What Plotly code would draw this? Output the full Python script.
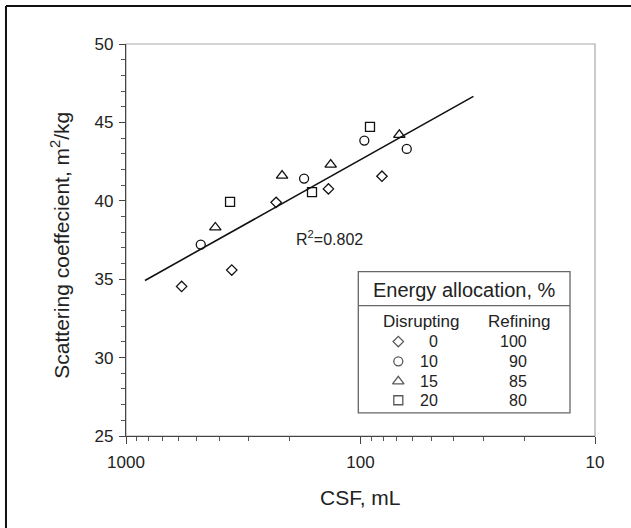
import plotly.graph_objects as go

# ---- data ----
csf_d0 = [579, 354, 229, 137, 81]
sc_d0 = [34.54, 35.58, 39.90, 40.76, 41.57]
csf_d10 = [480, 174, 96.3, 63.5]
sc_d10 = [37.21, 41.42, 43.84, 43.31]
csf_d15 = [416, 216, 134, 68.3]
sc_d15 = [38.30, 41.61, 42.31, 44.20]
csf_d20 = [360, 161, 91.1]
sc_d20 = [39.93, 40.55, 44.71]

fit_csf = [830, 33.0]
fit_sc = [34.92, 46.66]
r2_label = "R<sup>2</sup>=0.802"

legend_title = "Energy allocation, %"
disrupting = ["0", "10", "15", "20"]
refining = ["100", "90", "85", "80"]
x_tickvals = [1000, 100, 10]
x_ticktext = ["1000", "100", "10"]
x_minor = [900, 800, 700, 600, 500, 400, 300, 200, 90, 80, 70, 60, 50, 40, 30, 20]

FONT = "Liberation Sans, Arial, sans-serif"
TXT = "#222222"
symbols = ["diamond-open", "circle-open", "triangle-up-open", "square-open"]
sizes = [8, 9, 10, 9]

fig = go.Figure()
series = [(csf_d0, sc_d0), (csf_d10, sc_d10), (csf_d15, sc_d15), (csf_d20, sc_d20)]

fig.add_trace(go.Scatter(x=fit_csf, y=fit_sc, mode="lines",
                         line=dict(color="#111111", width=1.6),
                         showlegend=False, hoverinfo="skip"))
for (xs, ys), sym, sz in zip(series, symbols, sizes):
    fig.add_trace(go.Scatter(x=xs, y=ys, mode="markers",
                             marker=dict(symbol=sym, size=sz, color="#111111",
                                         line=dict(color="#111111", width=1.3)),
                             showlegend=False))

# legend key box (paper coordinates of plot area)
LX0, LX1, LY0, LY1, LSEP = 0.4953, 0.9467, 0.0591, 0.4191, 0.3325
row_y = [0.2408, 0.1906, 0.1395, 0.0912]
key_x = 0.5806

fig.add_trace(go.Scatter(x=[key_x] * 4, y=row_y, mode="markers",
                         xaxis="x2", yaxis="y2",
                         marker=dict(symbol=symbols, size=sizes, color="#111111",
                                     line=dict(color="#111111", width=1.3)),
                         showlegend=False, hoverinfo="skip"))

shapes = [
    # gray frame (top/right)
    dict(type="rect", xref="paper", yref="paper", x0=0, x1=1, y0=0, y1=1,
         line=dict(color="#a8a8a8", width=1.2), layer="below"),
    # legend box
    dict(type="rect", xref="paper", yref="paper", x0=LX0, x1=LX1, y0=LY0, y1=LY1,
         line=dict(color="#666666", width=1.3), fillcolor="white", layer="below"),
    dict(type="line", xref="paper", yref="paper", x0=LX0, x1=LX1, y0=LSEP, y1=LSEP,
         line=dict(color="#666666", width=1.3)),
    # outer image border (top and left)
    dict(type="line", xref="paper", yref="paper", x0=-0.2559, x1=1.2, y0=1.0968, y1=1.0968,
         line=dict(color="#111111", width=2)),
    dict(type="line", xref="paper", yref="paper", x0=-0.2559, x1=-0.2559, y0=1.0968, y1=-0.3,
         line=dict(color="#111111", width=2)),
]


def ann(text, x, y, size, xanchor="center", xref="paper", yref="paper", angle=0):
    return dict(text=text, x=x, y=y, xref=xref, yref=yref, xanchor=xanchor,
                yanchor="middle", textangle=angle, showarrow=False,
                font=dict(family=FONT, size=size, color=TXT))


annotations = [
    ann(r2_label, 2.133, 37.6, 16, xref="x", yref="y"),
    ann("Scattering coeffecient, m<sup>2</sup>/kg", -0.1395, 0.487, 21, angle=-90),
    ann("CSF, mL", 0.5, -0.1567, 21),
    ann(legend_title, 0.7228, 0.3732, 20),
    ann("Disrupting", 0.6311, 0.2925, 17),
    ann("Refining", 0.8380, 0.2925, 17),
]
for d, r, yy in zip(disrupting, refining, row_y):
    annotations.append(ann(d, 0.6695, yy, 16, xanchor="right"))
    annotations.append(ann(r, 0.8593, yy, 16, xanchor="right"))

fig.update_layout(
    width=631, height=528,
    margin=dict(l=126, r=36, t=44, b=91.5),
    paper_bgcolor="white", plot_bgcolor="white",
    font=dict(family=FONT, color=TXT),
    showlegend=False,
    hovermode=False,
    shapes=shapes,
    annotations=annotations,
    xaxis=dict(type="log", range=[3, 1], tickvals=x_tickvals, ticktext=x_ticktext,
               showgrid=False, zeroline=False, showline=True, linecolor="#444444",
               linewidth=1.2, ticks="outside", ticklen=7, tickwidth=1.2, tickcolor="#444444",
               tickfont=dict(family=FONT, size=17, color=TXT), ticklabelstandoff=3,
               minor=dict(tickmode="array", tickvals=x_minor, ticks="outside", ticklen=4,
                          tickwidth=1, tickcolor="#555555", showgrid=False)),
    yaxis=dict(range=[25, 50], dtick=5, tick0=25, showgrid=False, zeroline=False,
               showline=True, linecolor="#444444", linewidth=1.2, ticks="outside",
               ticklen=6, tickwidth=1.2, tickcolor="#444444",
               tickfont=dict(family=FONT, size=17, color=TXT), ticklabelstandoff=2,
               minor=dict(dtick=1, tick0=25, ticks="outside", ticklen=3.5,
                          tickwidth=1, tickcolor="#555555", showgrid=False)),
    xaxis2=dict(range=[0, 1], overlaying="x", visible=False, fixedrange=True),
    yaxis2=dict(range=[0, 1], overlaying="y", visible=False, fixedrange=True),
)

fig.write_html("out.html", config={"displayModeBar": False},
               post_script="document.body.style.margin='0px';")
